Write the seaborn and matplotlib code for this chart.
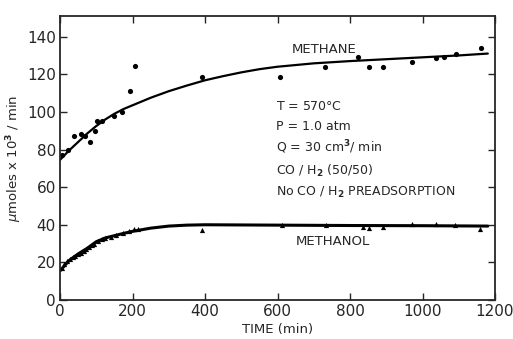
import matplotlib
matplotlib.use("Agg")
import matplotlib.pyplot as plt
import seaborn as sns
import pandas as pd

sns.set_theme(style="ticks")
plt.rcParams['font.family'] = ['DejaVu Sans']

# Methane measured points
ch4_t = [5, 22, 39, 58, 69, 83, 97, 102, 116, 149, 171, 193, 207, 392, 607, 731, 822, 852, 891, 971, 1037, 1059, 1092, 1161]
ch4_r = [77, 80, 87, 88, 87, 84, 90, 95, 95, 98, 100, 111, 124.5, 118.6, 118.6, 124, 129, 124, 124, 126.6, 128.7, 129, 131, 134]
# Methane fitted curve
ch4c_t = [0, 25, 50, 75, 100, 125, 150, 175, 200, 250, 300, 350, 400, 450, 500, 550, 600, 700, 800, 900, 1000, 1100, 1180]
ch4c_r = [74.5, 79.5, 84, 88.5, 92.5, 96, 99, 101.5, 103.5, 107.5, 111, 114, 116.8, 119, 121, 122.7, 124, 125.8, 127, 128, 129, 130, 131]

# Methanol measured points
meoh_t = [5, 12, 20, 28, 35, 42, 50, 58, 65, 72, 80, 88, 95, 105, 115, 125, 140, 155, 175, 190, 205, 215,
          392, 612, 733, 837, 852, 890, 970, 1036, 1089, 1158]
meoh_r = [17, 19, 21, 22, 23, 23.5, 24.5, 25, 26, 27, 28, 29, 30, 31.5, 32.5, 33, 33.5, 34.5, 35.5, 36.5, 37.5, 38,
          37, 40, 40, 39, 38.5, 39, 40.5, 40.5, 40, 38]
# Methanol fitted curve
meohc_t = [0, 25, 50, 75, 100, 125, 150, 175, 200, 250, 300, 350, 400, 600, 800, 1000, 1180]
meohc_r = [15.5, 21, 24.5, 27.5, 31, 33, 34.2, 35.4, 36.5, 38.2, 39.3, 39.8, 40, 39.8, 39.6, 39.5, 39.3]

x_ticks = [0, 200, 400, 600, 800, 1000, 1200]
y_ticks = [0, 20, 40, 60, 80, 100, 120, 140]

fig = plt.figure(figsize=(5.13, 3.39), dpi=100)
ax = fig.add_axes([0.117, 0.115, 0.848, 0.838])

sns.lineplot(x=ch4c_t, y=ch4c_r, ax=ax, color="black", lw=1.6)
sns.scatterplot(x=ch4_t, y=ch4_r, ax=ax, color="black", s=14, marker="o", edgecolor="black", linewidth=0)
sns.lineplot(x=meohc_t, y=meohc_r, ax=ax, color="black", lw=2.2)
sns.scatterplot(x=meoh_t, y=meoh_r, ax=ax, color="black", s=14, marker="^", edgecolor="black", linewidth=0)

ax.set_xlim(0, 1200)
ax.set_ylim(0, 151)
ax.set_xticks(x_ticks)
ax.set_yticks(y_ticks)
ax.tick_params(direction="in", top=True, right=True, length=5, width=1, labelsize=11, pad=3)
ax.set_xticklabels([str(t) for t in x_ticks])
ax.set_yticklabels([str(t) for t in y_ticks])
for s in ax.spines.values():
    s.set_linewidth(1.3)

ax.set_xlabel("TIME (min)", fontsize=9.5, labelpad=3)
ax.set_ylabel(r"$\mu$moles x 10$^{\mathbf{3}}$ / min", fontsize=9.5, labelpad=2)

ax.text(640, 133, "METHANE", fontsize=9.5, va="center", ha="left")
ax.text(651, 31, "METHANOL", fontsize=9.5, va="center", ha="left")
lines = [r"T = 570$\degree$C", "P = 1.0 atm", r"Q = 30 cm$^{\mathbf{3}}$/ min",
         r"CO / H$_{\mathbf{2}}$ (50/50)", r"No CO / H$_{\mathbf{2}}$ PREADSORPTION"]
ys = [102.6, 92, 81.4, 68.5, 57.4]
for l, y in zip(lines, ys):
    ax.text(596, y, l, fontsize=9, va="center", ha="left")

fig.savefig("out.png", dpi=100)
